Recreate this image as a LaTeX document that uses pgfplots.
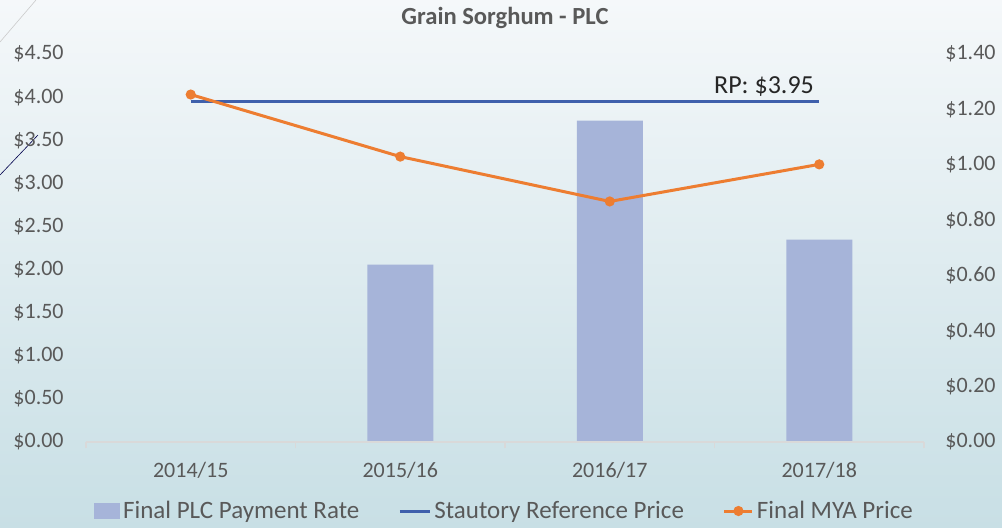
\documentclass[border=0pt]{standalone}
\usepackage{pgfplots}
\pgfplotsset{compat=1.18}
\usepackage{fontspec}
\setmainfont{Carlito}
\definecolor{barc}{HTML}{A6B4D9}
\definecolor{rpc}{HTML}{3F60AC}
\definecolor{myac}{HTML}{ED7D31}
\definecolor{txt}{HTML}{595959}
\definecolor{bgtop}{HTML}{F5F8FA}
\definecolor{bgbot}{HTML}{C8DFE5}
\begin{document}
\begin{tikzpicture}
\useasboundingbox (0pt,0pt) rectangle (501pt,263.5pt);
\shade[top color=bgtop, bottom color=bgbot] (0pt,0pt) rectangle (501pt,263.5pt);
\draw[gray!40, line width=0.3pt] (0pt,242.5pt) -- (18pt,263.5pt);
\draw[black!70!blue, line width=0.3pt] (0pt,176pt) -- (19pt,196pt);
\node[font=\fontsize{12.3}{14}\selectfont\bfseries, text=txt] at (252.5pt,254.5pt) {Grain Sorghum - PLC};
% bars on right axis
\begin{axis}[
  scale only axis, width=419pt, height=194pt,
  at={(43pt,42.5pt)}, anchor=south west,
  xmin=-0.5, xmax=3.5, ymin=0, ymax=1.4,
  ytick={0,0.2,0.4,0.6,0.8,1.0,1.2,1.4},
  axis y line*=right, hide x axis,
  y axis line style={draw=none},
  major tick length=0pt,
  /pgf/number format/assume math mode=true,
  yticklabel={\$\pgfmathprintnumber[fixed,fixed zerofill,precision=2]{\tick}},
  yticklabel style={font=\fontsize{11}{13}\selectfont, text=txt, anchor=west, inner sep=0pt, xshift=10.5pt},
  ybar, bar width=33pt,
]
\addplot[fill=barc, draw=none] coordinates {(1,0.64) (2,1.16) (3,0.73)};
\end{axis}
% lines on left axis
\begin{axis}[
  scale only axis, width=419pt, height=194pt,
  at={(43pt,42.5pt)}, anchor=south west,
  xmin=-0.5, xmax=3.5, ymin=0, ymax=4.5,
  ytick={0,0.5,...,4.5},
  axis y line*=left, axis x line*=bottom,
  y axis line style={draw=none},
  x axis line style={draw=black!15, line width=0.8pt, -},
  xtick={0,1,2,3},
  xticklabels={2014/15,2015/16,2016/17,2017/18},
  major tick length=0pt,
  extra x ticks={-0.5,0.5,1.5,2.5,3.5},
  extra x tick labels={},
  extra x tick style={major tick length=3pt, tick align=outside, tick style={draw=black!15, line width=0.8pt}},
  /pgf/number format/assume math mode=true,
  yticklabel={\$\pgfmathprintnumber[fixed,fixed zerofill,precision=2]{\tick}},
  yticklabel style={font=\fontsize{11}{13}\selectfont, text=txt, anchor=east, inner sep=0pt, xshift=-11pt},
  xticklabel style={font=\fontsize{11}{13}\selectfont, text=txt, anchor=north, inner sep=0pt, yshift=-10pt},
  legend style={at={(0.5,0)}, anchor=center, yshift=-34.5pt, draw=none, fill=none,
    font=\fontsize{12.5}{14}\selectfont, text=txt,
    nodes={inner sep=1.5pt},
    /tikz/every even column/.append style={column sep=18pt}},
  legend columns=3,
  legend cell align=left,
]
\addlegendimage{area legend, fill=barc, draw=none, legend image code/.code={\fill[barc] (0pt,-4pt) rectangle (13pt,4pt);}}
\addlegendentry{Final PLC Payment Rate}
\addplot[rpc, line width=1.5pt, mark=none, legend image code/.code={\draw[rpc, line width=1.5pt] (0pt,0pt) -- (15pt,0pt);}] coordinates {(0,3.95) (3,3.95)};
\addlegendentry{Stautory Reference Price}
\addplot[myac, line width=1.5pt, mark=*, mark size=1.75pt, mark options={fill=myac, draw=myac}, legend image code/.code={\draw[myac, line width=1.5pt] (0pt,0pt) -- (14pt,0pt); \fill[myac] (7pt,0pt) circle (1.75pt);}] coordinates {(0,4.03) (1,3.31) (2,2.79) (3,3.22)};
\addlegendentry{Final MYA Price}
\node[anchor=base east, font=\fontsize{13}{15}\selectfont, text=black!85, inner sep=0pt] at (axis cs:3,3.95) [xshift=-2.5pt, yshift=4pt] {RP: \$3.95};
\end{axis}
\end{tikzpicture}
\end{document}
